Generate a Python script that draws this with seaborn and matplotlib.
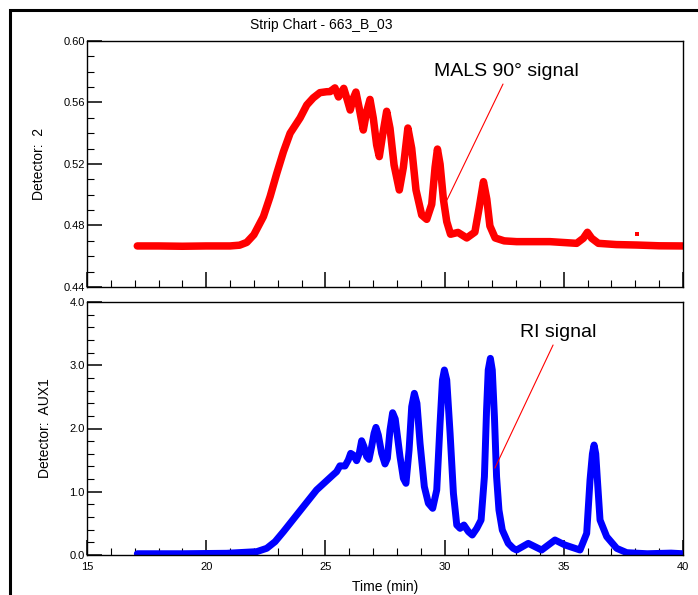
import matplotlib
matplotlib.use("Agg")
import matplotlib.pyplot as plt
from matplotlib.patches import Rectangle
from matplotlib.ticker import MultipleLocator, FormatStrFormatter
import seaborn as sns

# ---------------- data ----------------
mals_time = [17.11, 18.0, 19.0, 20.0, 21.0, 21.4, 21.7, 22.0, 22.4, 22.68, 22.96,
             23.24, 23.52, 23.94, 24.22, 24.49, 24.77, 25.05, 25.2, 25.40, 25.55,
             25.77, 25.92, 26.04, 26.17, 26.28, 26.42, 26.59, 26.73, 26.87, 27.01,
             27.15, 27.26, 27.40, 27.57, 27.71, 27.88, 28.10, 28.27, 28.46, 28.62,
             28.80, 29.04, 29.25, 29.46, 29.60, 29.70, 29.81, 29.95, 30.09, 30.25,
             30.56, 30.93, 31.27, 31.45, 31.63, 31.77, 31.90, 32.12, 32.5, 33.02,
             34.42, 35.54, 35.82, 35.99, 36.17, 36.45, 37.2, 38.06, 39.0, 40.0]
mals_signal = [0.4667, 0.4667, 0.4665, 0.4667, 0.4667, 0.4672, 0.4690, 0.4740,
               0.4858, 0.4988, 0.5139, 0.5280, 0.5400, 0.5500, 0.5584, 0.5630,
               0.5664, 0.5670, 0.5671, 0.5695, 0.5636, 0.5692, 0.5616, 0.5551,
               0.5627, 0.5668, 0.5562, 0.5421, 0.5540, 0.5620, 0.5497, 0.5324,
               0.5248, 0.5388, 0.5543, 0.5432, 0.5194, 0.5031, 0.5178, 0.5434,
               0.5302, 0.5031, 0.4868, 0.4840, 0.4938, 0.5178, 0.5297, 0.5199,
               0.4970, 0.4825, 0.4743, 0.4755, 0.4719, 0.4757, 0.4915, 0.5085,
               0.4971, 0.4797, 0.4719, 0.4700, 0.4695, 0.4695, 0.4684, 0.4717,
               0.4756, 0.4717, 0.4684, 0.4676, 0.4673, 0.4668, 0.4667]
mals_spike_time = [38.08]
mals_spike_signal = [0.4743]

ri_time = [17.11, 19.0, 20.86, 22.12, 22.54, 22.89, 23.24, 23.94, 24.63, 25.33,
           25.47, 25.61, 25.82, 25.96, 26.06, 26.17, 26.31, 26.42, 26.52, 26.62,
           26.73, 26.83, 26.94, 27.04, 27.12, 27.22, 27.36, 27.50, 27.60, 27.71,
           27.82, 27.93, 28.13, 28.27, 28.38, 28.51, 28.62, 28.73, 28.84, 28.97,
           29.15, 29.32, 29.50, 29.67, 29.81, 29.91, 29.99, 30.09, 30.23, 30.37,
           30.51, 30.65, 30.81, 31.00, 31.16, 31.35, 31.53, 31.67, 31.76, 31.83,
           31.92, 32.00, 32.09, 32.18, 32.28, 32.42, 32.67, 32.88, 33.02, 33.51,
           34.07, 34.63, 35.05, 35.68, 35.96, 36.10, 36.20, 36.27, 36.34, 36.41,
           36.52, 36.80, 37.22, 37.64, 38.5, 39.5, 40.0]
ri_signal = [0.02, 0.02, 0.027, 0.053, 0.106, 0.211, 0.369, 0.701, 1.028, 1.27,
             1.317, 1.41, 1.407, 1.502, 1.607, 1.581, 1.491, 1.607, 1.807, 1.713,
             1.555, 1.512, 1.713, 1.923, 2.018, 1.897, 1.607, 1.439, 1.528, 1.976,
             2.250, 2.150, 1.555, 1.212, 1.133, 1.660, 2.345, 2.556, 2.398, 1.765,
             1.080, 0.817, 0.738, 1.028, 2.082, 2.767, 2.925, 2.767, 1.924, 0.975,
             0.474, 0.421, 0.474, 0.369, 0.316, 0.421, 0.553, 1.238, 2.292, 2.925,
             3.109, 2.925, 2.187, 1.238, 0.711, 0.395, 0.184, 0.105, 0.079, 0.184,
             0.079, 0.237, 0.158, 0.079, 0.342, 1.186, 1.60, 1.739, 1.60, 1.186,
             0.553, 0.290, 0.105, 0.037, 0.02, 0.03, 0.02]

title_text = "Strip Chart - 663_B_03"
top_ylabel = "Detector:  2"
bottom_ylabel = "Detector:  AUX1"
xlabel_text = "Time (min)"
mals_label = "MALS 90\u00b0 signal"
ri_label = "RI signal"

# ---------------- styling ----------------
sns.set_theme(style="white")
plt.rcParams["font.family"] = ["Liberation Sans", "DejaVu Sans"]
plt.rcParams.update({
    "axes.edgecolor": "black",
    "axes.linewidth": 1.0,
    "xtick.direction": "in",
    "ytick.direction": "in",
    "xtick.bottom": True,
    "ytick.left": True,
    "xtick.color": "black",
    "ytick.color": "black",
    "text.color": "black",
    "axes.labelcolor": "black",
})

W, H = 698, 595
fig = plt.figure(figsize=(W / 100, H / 100), dpi=100)
fig.patch.set_facecolor("white")


def fx(px):
    return px / W


def fy(py):
    return 1 - py / H


ax1 = fig.add_axes([fx(87), fy(287), fx(683) - fx(87), fy(41) - fy(287)])
ax2 = fig.add_axes([fx(87), fy(555), fx(683) - fx(87), fy(302) - fy(555)])

sns.lineplot(x=mals_time, y=mals_signal, ax=ax1, color="#ff0000",
             linewidth=5.4, estimator=None, sort=False)
sns.scatterplot(x=mals_spike_time, y=mals_spike_signal, ax=ax1, color="#ff0000",
                marker="s", s=10, linewidth=0)
sns.lineplot(x=ri_time, y=ri_signal, ax=ax2, color="#0000ff",
             linewidth=5.0, estimator=None, sort=False)

for ax in (ax1, ax2):
    ax.set_xlim(15, 40)
    ax.xaxis.set_major_locator(MultipleLocator(5))
    ax.xaxis.set_minor_locator(MultipleLocator(1))
    ax.tick_params(axis="both", which="both", bottom=True, left=True,
                   top=False, right=False, direction="in", colors="black")
    ax.tick_params(axis="both", which="major", length=11, width=1.1,
                   labelsize=8)
    ax.tick_params(axis="both", which="minor", length=4.8, width=0.8)
    ax.tick_params(axis="y", which="major", pad=1.5)
    ax.tick_params(axis="x", which="major", pad=5)
    for s in ax.spines.values():
        s.set_visible(True)
        s.set_color("black")
        s.set_linewidth(1.0)
    ax.set_facecolor("white")
    for ln in ax.get_lines():
        ln.set_solid_joinstyle("round")
        ln.set_solid_capstyle("round")

ax1.set_ylim(0.44, 0.60)
ax1.yaxis.set_major_locator(MultipleLocator(0.04))
ax1.yaxis.set_minor_locator(MultipleLocator(0.01))
ax1.yaxis.set_major_formatter(FormatStrFormatter("%.2f"))
ax1.tick_params(axis="x", labelbottom=False)
ax1.set_xlabel("")
ax1.set_ylabel(top_ylabel, fontsize=10)
ax1.yaxis.set_label_coords(-(87 - 46) / (683 - 87), 0.5)

ax2.set_ylim(0.0, 4.0)
ax2.yaxis.set_major_locator(MultipleLocator(1.0))
ax2.yaxis.set_minor_locator(MultipleLocator(0.2))
ax2.yaxis.set_major_formatter(FormatStrFormatter("%.1f"))
ax2.set_xlabel(xlabel_text, fontsize=10, labelpad=6)
ax2.set_ylabel(bottom_ylabel, fontsize=10)
ax2.yaxis.set_label_coords(-(87 - 52) / (683 - 87), 0.5)

fig.text(fx(321), fy(25), title_text, ha="center", va="center", fontsize=10)

ax1.text(32.58, 0.580, mals_label, ha="center", va="center", fontsize=14)
ax1.annotate("", xy=(30.1, 0.4966), xytext=(32.45, 0.572),
             arrowprops=dict(arrowstyle="-", color="#ff0000", lw=0.8,
                             shrinkA=0, shrinkB=0))
ax2.text(34.76, 3.51, ri_label, ha="center", va="center", fontsize=14)
ax2.annotate("", xy=(32.11, 1.375), xytext=(34.55, 3.32),
             arrowprops=dict(arrowstyle="-", color="#ff0000", lw=0.8,
                             shrinkA=0, shrinkB=0))

fig.patches.append(Rectangle((fx(10), -0.1), 1.2, fy(10) + 0.1,
                             transform=fig.transFigure, fill=False,
                             edgecolor="black", linewidth=2.2))

fig.savefig("out.png", dpi=100, facecolor="white")
